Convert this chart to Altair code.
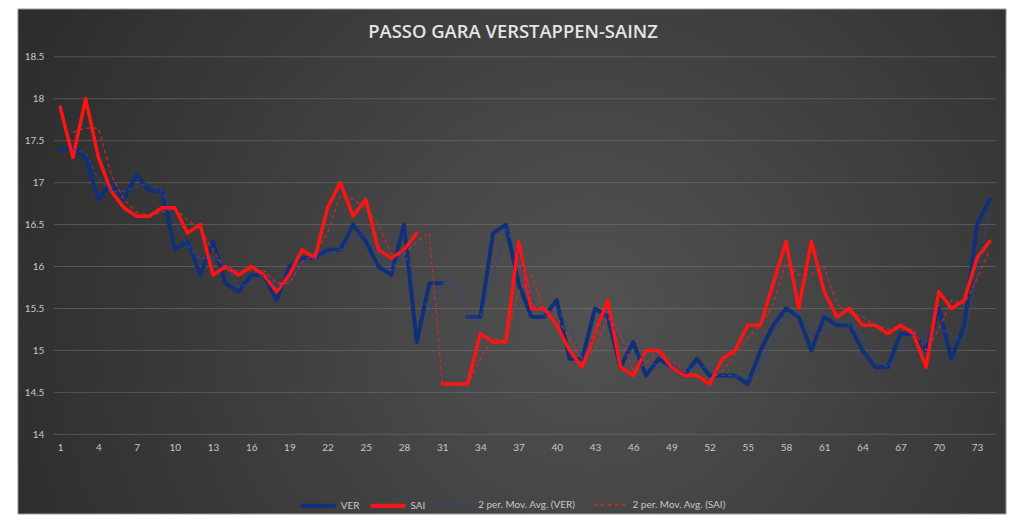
import altair as alt
import pandas as pd

laps = list(range(1, 75))
ver = [17.4, 17.4, 17.3, 16.8, 17.0, 16.8, 17.1, 16.9, 16.9, 16.2,
       16.3, 15.9, 16.3, 15.8, 15.7, 15.9, 15.9, 15.6, 16.0, 16.1,
       16.1, 16.2, 16.2, 16.5, 16.3, 16.0, 15.9, 16.5, 15.1, 15.8,
       15.8, None, 15.4, 15.4, 16.4, 16.5, 15.8, 15.4, 15.4, 15.6,
       14.9, 14.9, 15.5, 15.4, 14.8, 15.1, 14.7, 14.9, 14.8, 14.7,
       14.9, 14.7, 14.7, 14.7, 14.6, 15.0, 15.3, 15.5, 15.4, 15.0,
       15.4, 15.3, 15.3, 15.0, 14.8, 14.8, 15.2, 15.2, 15.0, 15.5,
       14.9, 15.3, 16.5, 16.8]
sai = [17.9, 17.3, 18.0, 17.3, 16.9, 16.7, 16.6, 16.6, 16.7, 16.7,
       16.4, 16.5, 15.9, 16.0, 15.9, 16.0, 15.9, 15.7, 15.9, 16.2,
       16.1, 16.7, 17.0, 16.6, 16.8, 16.2, 16.1, 16.2, 16.4, None,
       14.6, 14.6, 14.6, 15.2, 15.1, 15.1, 16.3, 15.5, 15.5, 15.3,
       15.0, 14.8, 15.2, 15.6, 14.8, 14.7, 15.0, 15.0, 14.8, 14.7,
       14.7, 14.6, 14.9, 15.0, 15.3, 15.3, 15.8, 16.3, 15.5, 16.3,
       15.7, 15.4, 15.5, 15.3, 15.3, 15.2, 15.3, 15.2, 14.8, 15.7,
       15.5, 15.6, 16.1, 16.3]

main_names = ["VER", "SAI"]
main_colors = ["#10307a", "#ff1414"]
ma_names = ["2 per. Mov. Avg. (VER)", "2 per. Mov. Avg. (SAI)"]
ma_colors = ["#2446a0", "#e02828"]
x_ticks = list(range(1, 75, 3))
y_ticks = [14, 14.5, 15, 15.5, 16, 16.5, 17, 17.5, 18, 18.5]

df = pd.DataFrame({"lap": laps, "VER": ver, "SAI": sai})
grid_df = pd.DataFrame({"val": y_ticks})

W, H = 946, 379
FONT = "Lato"
LBL = "#c8c8c8"

base = (
    alt.Chart(df)
    .transform_window(maVER="mean(VER)", maSAI="mean(SAI)", frame=[-1, 0],
                      sort=[alt.SortField("lap")])
    .transform_fold(["VER", "SAI", "maVER", "maSAI"], as_=["key", "val"])
    .transform_calculate(
        series="datum.key=='VER'?'VER':datum.key=='SAI'?'SAI':"
               "datum.key=='maVER'?'2 per. Mov. Avg. (VER)':'2 per. Mov. Avg. (SAI)'"
    )
    .transform_filter("!(indexof(datum.key,'ma')==0 && datum.lap==1)")
)

x_enc = alt.X("lap:Q", scale=alt.Scale(domain=[0.5, 74.5], nice=False, zero=False),
              axis=alt.Axis(values=x_ticks, title=None, grid=False, domain=False, ticks=False,
                            labelColor=LBL, labelFontSize=10, labelFont=FONT, labelPadding=8,
                            zindex=1))
y_enc = alt.Y("val:Q", scale=alt.Scale(domain=[14, 18.5], nice=False, zero=False),
              axis=alt.Axis(values=y_ticks, format="~f", title=None, domain=False, ticks=False,
                            grid=False, labelColor=LBL, labelFontSize=10, labelFont=FONT,
                            labelPadding=10, zindex=1))

leg_common = dict(title=None, zindex=1, orient="none", direction="horizontal",
                  symbolType="stroke", symbolSize=1225, labelColor=LBL, labelFont=FONT,
                  labelFontSize=10, labelOffset=3, padding=0, legendY=431)

main_color = alt.Color(
    "series:N", scale=alt.Scale(domain=main_names, range=main_colors),
    legend=alt.Legend(legendX=246, symbolStrokeWidth=4, columnPadding=3, **leg_common),
)
ma_stroke = alt.Stroke(
    "series:N", scale=alt.Scale(domain=ma_names, range=ma_colors),
    legend=alt.Legend(legendX=386, symbolStrokeWidth=1.3, symbolDash=[4, 3],
                      columnPadding=15, **leg_common),
)


def main_layer(name, width):
    return base.transform_filter(alt.datum.series == name).mark_line(
        invalid="break-paths-filter-domains", strokeJoin="round", strokeCap="round",
        strokeWidth=width,
    ).encode(x=x_enc, y=y_enc, color=main_color)


def ma_layer(name, opacity):
    return base.transform_filter(alt.datum.series == name).mark_line(
        strokeJoin="round", strokeWidth=1.2, strokeDash=[4, 3], opacity=opacity,
    ).encode(x=x_enc, y=y_enc, stroke=ma_stroke)


bg = alt.Chart(pd.DataFrame({"a": [0]})).mark_rect(
    clip=False, stroke="#9a9a9a", strokeWidth=1,
    fill={"gradient": "radial", "x1": 0.58, "y1": 0.55, "r1": 0, "x2": 0.58, "y2": 0.55, "r2": 0.75,
          "stops": [{"offset": 0, "color": "#525252"}, {"offset": 1, "color": "#262626"}]},
).encode(x=alt.value(-36), x2=alt.value(956), y=alt.value(-48), y2=alt.value(459))

grid = alt.Chart(grid_df).mark_rule(color="#7a7a7a", opacity=0.5, strokeWidth=1).encode(
    y=y_enc, x=alt.value(0), x2=alt.value(W)
)

chart = alt.layer(
    bg,
    grid,
    main_layer("VER", 4),
    main_layer("SAI", 3.5),
    ma_layer("2 per. Mov. Avg. (VER)", 1.0),
    ma_layer("2 per. Mov. Avg. (SAI)", 0.85),
).properties(
    width=W, height=H,
    autosize=alt.AutoSizeParams(type="none"),
    padding={"left": 46, "top": 48, "right": 20, "bottom": 80},
    title=alt.TitleParams("PASSO GARA VERSTAPPEN-SAINZ", color="#e4e4e4", fontSize=18.5,
                          font="Open Sans", fontWeight=600, anchor="middle", offset=14,
                          dy=47, dx=-12, zindex=1),
).configure_view(stroke=None).configure(background="white")

chart.save("out.html", embed_options={"renderer": "svg", "actions": False})
